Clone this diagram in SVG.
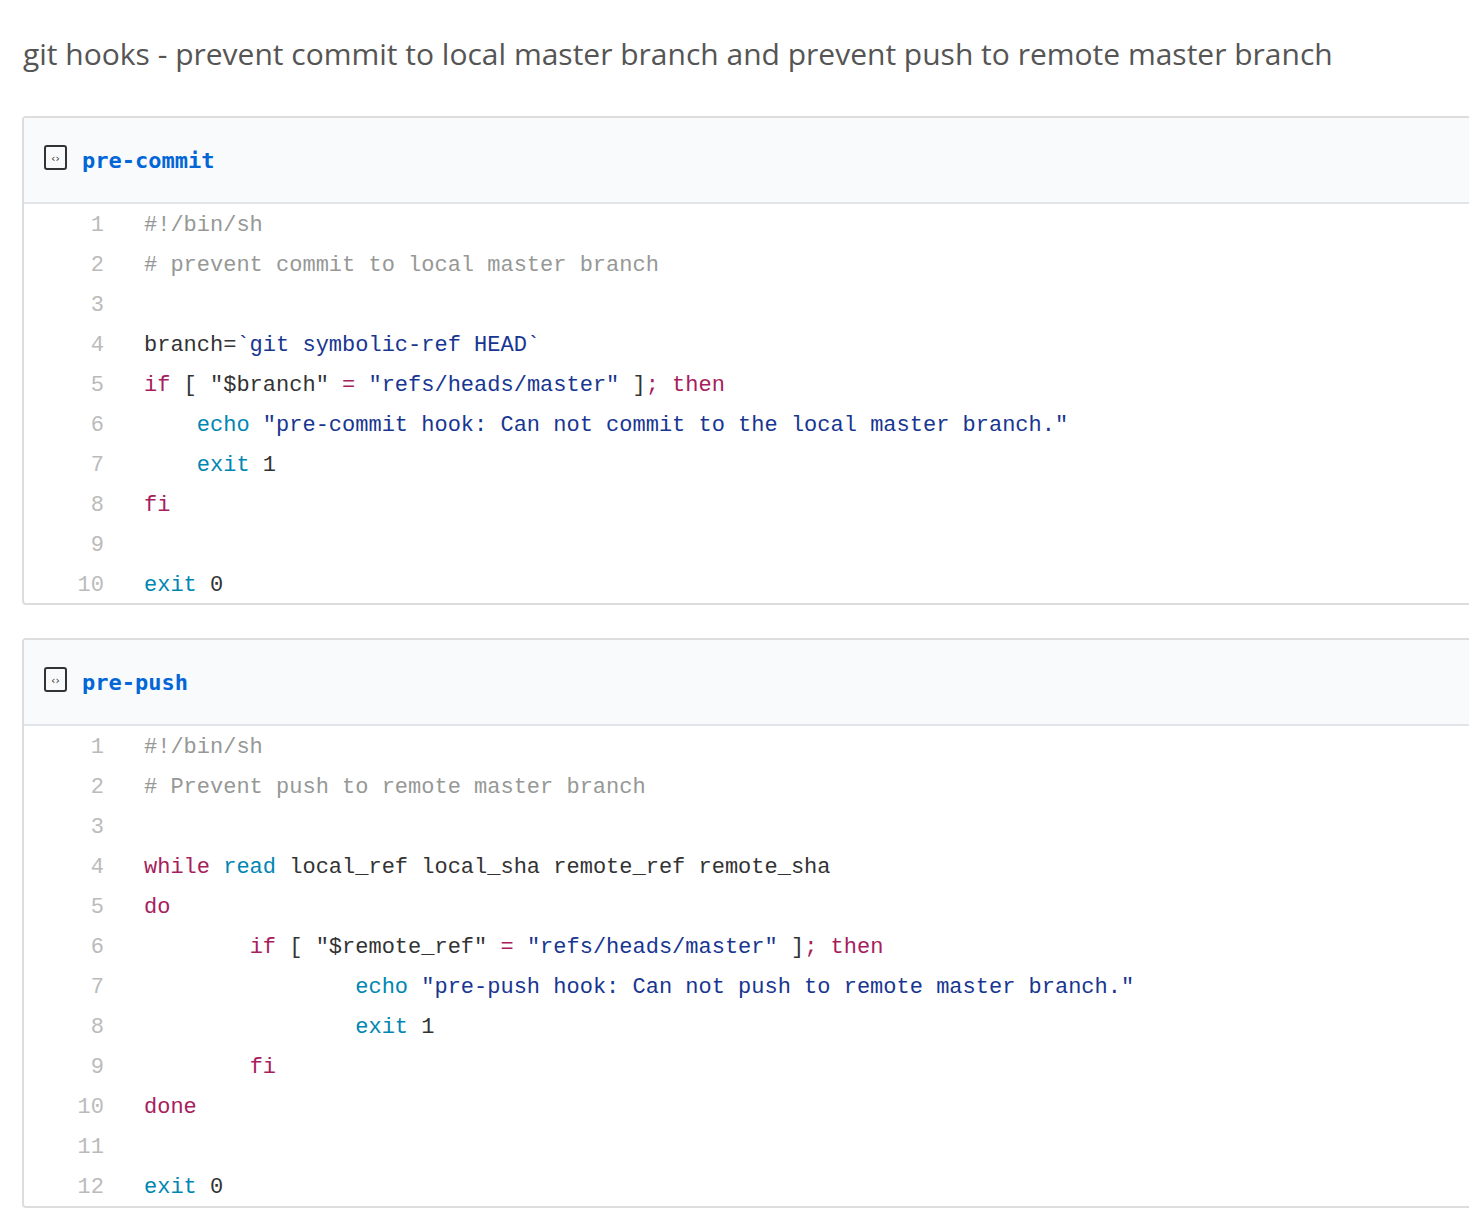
<svg xmlns="http://www.w3.org/2000/svg" width="1469" height="1227" viewBox="0 0 1469 1227">
<style>
.c{font-family:"Liberation Mono",monospace;font-size:22px;fill:#333;white-space:pre}
.n{font-family:"Liberation Mono",monospace;font-size:22px;fill:#bbb;text-anchor:end}
.cm{fill:#969896}.k{fill:#a71d5d}.s{fill:#183691}.b{fill:#0086b3}
.h{font-family:"DejaVu Sans Mono",monospace;font-size:22px;font-weight:bold;fill:#0366d6}
.box{fill:#fff;stroke:#ddd;stroke-width:2}
.hd{fill:#f9fafc}
</style>
<rect width="1469" height="1227" fill="#fff"/>
<text x="23" y="65" font-family="Open Sans, sans-serif" font-size="30" fill="#555">git hooks - prevent commit to local master branch and prevent push to remote master branch</text>
<g id="pre-commit">
<rect class="box" x="23" y="117" width="1460" height="487" rx="3"/>
<rect class="hd" x="24" y="118" width="1450" height="85"/>
<line x1="24" y1="203" x2="1469" y2="203" stroke="#e1e4e8" stroke-width="2"/>
<rect x="45" y="146" width="21" height="23" rx="2" fill="none" stroke="#333" stroke-width="2"/>
<text x="55.5" y="162" font-family="DejaVu Sans" font-size="11" text-anchor="middle" fill="#333">‹›</text>
<text class="h" x="82" y="168">pre-commit</text>
<text class="n" x="104" y="231">1</text><text class="n" x="104" y="271">2</text><text class="n" x="104" y="311">3</text><text class="n" x="104" y="351">4</text><text class="n" x="104" y="391">5</text><text class="n" x="104" y="431">6</text><text class="n" x="104" y="471">7</text><text class="n" x="104" y="511">8</text><text class="n" x="104" y="551">9</text><text class="n" x="104" y="591">10</text>
<text class="c" x="144" y="231"><tspan class="cm">#!/bin/sh</tspan></text>
<text class="c" x="144" y="271"><tspan class="cm"># prevent commit to local master branch</tspan></text>
<text class="c" x="144" y="351">branch=<tspan class="s">`git symbolic-ref HEAD`</tspan></text>
<text class="c" x="144" y="391"><tspan class="k">if</tspan> [ "$branch" <tspan class="k">=</tspan> <tspan class="s">"refs/heads/master"</tspan> ]<tspan class="k">; then</tspan></text>
<text class="c" x="144" y="431">    <tspan class="b">echo</tspan> <tspan class="s">"pre-commit hook: Can not commit to the local master branch."</tspan></text>
<text class="c" x="144" y="471">    <tspan class="b">exit</tspan> 1</text>
<text class="c" x="144" y="511"><tspan class="k">fi</tspan></text>
<text class="c" x="144" y="591"><tspan class="b">exit</tspan> 0</text>
</g>
<g id="pre-push">
<rect class="box" x="23" y="639" width="1460" height="568" rx="3"/>
<rect class="hd" x="24" y="640" width="1450" height="85"/>
<line x1="24" y1="725" x2="1469" y2="725" stroke="#e1e4e8" stroke-width="2"/>
<rect x="45" y="668" width="21" height="23" rx="2" fill="none" stroke="#333" stroke-width="2"/>
<text x="55.5" y="684" font-family="DejaVu Sans" font-size="11" text-anchor="middle" fill="#333">‹›</text>
<text class="h" x="82" y="690">pre-push</text>
<text class="n" x="104" y="753">1</text><text class="n" x="104" y="793">2</text><text class="n" x="104" y="833">3</text><text class="n" x="104" y="873">4</text><text class="n" x="104" y="913">5</text><text class="n" x="104" y="953">6</text><text class="n" x="104" y="993">7</text><text class="n" x="104" y="1033">8</text><text class="n" x="104" y="1073">9</text><text class="n" x="104" y="1113">10</text><text class="n" x="104" y="1153">11</text><text class="n" x="104" y="1193">12</text>
<text class="c" x="144" y="753"><tspan class="cm">#!/bin/sh</tspan></text>
<text class="c" x="144" y="793"><tspan class="cm"># Prevent push to remote master branch</tspan></text>
<text class="c" x="144" y="873"><tspan class="k">while</tspan> <tspan class="b">read</tspan> local_ref local_sha remote_ref remote_sha</text>
<text class="c" x="144" y="913"><tspan class="k">do</tspan></text>
<text class="c" x="144" y="953">        <tspan class="k">if</tspan> [ "$remote_ref" <tspan class="k">=</tspan> <tspan class="s">"refs/heads/master"</tspan> ]<tspan class="k">; then</tspan></text>
<text class="c" x="144" y="993">                <tspan class="b">echo</tspan> <tspan class="s">"pre-push hook: Can not push to remote master branch."</tspan></text>
<text class="c" x="144" y="1033">                <tspan class="b">exit</tspan> 1</text>
<text class="c" x="144" y="1073">        <tspan class="k">fi</tspan></text>
<text class="c" x="144" y="1113"><tspan class="k">done</tspan></text>
<text class="c" x="144" y="1193"><tspan class="b">exit</tspan> 0</text>
</g>
</svg>
